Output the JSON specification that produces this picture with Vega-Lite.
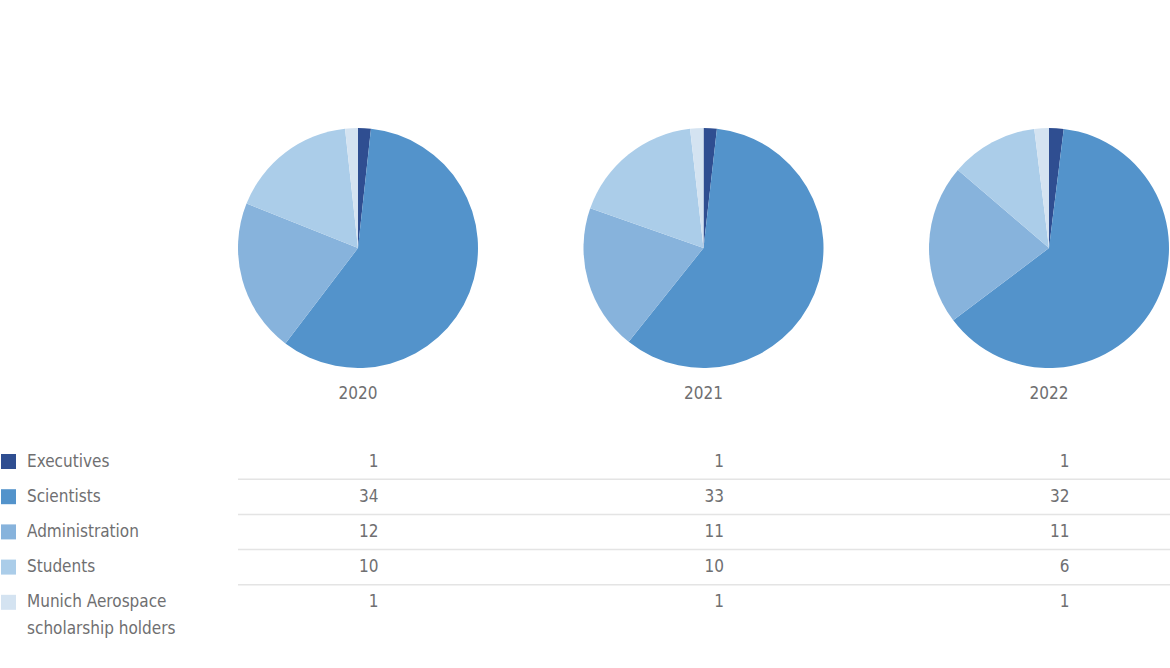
{
  "$schema": "https://vega.github.io/schema/vega-lite/v6.json",
  "padding": {"top": 128, "left": 0, "right": 0, "bottom": 0},
  "background": "white",
  "config": {
    "view": {"stroke": null},
    "font": "Liberation Sans Narrow, DejaVu Sans Condensed, Roboto, sans-serif",
    "style": {"guide-label": {"lineHeight": 27}}
  },
  "datasets": {
    "staff": [
      {"year": "2020", "category": "Executives", "k": 1, "value": 1},
      {"year": "2020", "category": "Scientists", "k": 2, "value": 34},
      {"year": "2020", "category": "Administration", "k": 3, "value": 12},
      {"year": "2020", "category": "Students", "k": 4, "value": 10},
      {"year": "2020", "category": "Munich Aerospace scholarship holders", "k": 5, "value": 1},
      {"year": "2021", "category": "Executives", "k": 1, "value": 1},
      {"year": "2021", "category": "Scientists", "k": 2, "value": 33},
      {"year": "2021", "category": "Administration", "k": 3, "value": 11},
      {"year": "2021", "category": "Students", "k": 4, "value": 10},
      {"year": "2021", "category": "Munich Aerospace scholarship holders", "k": 5, "value": 1},
      {"year": "2022", "category": "Executives", "k": 1, "value": 1},
      {"year": "2022", "category": "Scientists", "k": 2, "value": 32},
      {"year": "2022", "category": "Administration", "k": 3, "value": 11},
      {"year": "2022", "category": "Students", "k": 4, "value": 6},
      {"year": "2022", "category": "Munich Aerospace scholarship holders", "k": 5, "value": 1}
    ]
  },
  "vconcat": [
    {
      "data": {"name": "staff"},
      "facet": {
        "column": {
          "field": "year",
          "type": "nominal",
          "title": null,
          "header": {
            "labelOrient": "bottom",
            "labelFontSize": 17,
            "labelColor": "#6f6f71",
            "labelPadding": 18
          }
        }
      },
      "spacing": {"column": 105.5},
      "spec": {
        "width": 240,
        "height": 240,
        "mark": {"type": "arc", "outerRadius": 120},
        "encoding": {
          "theta": {"field": "value", "type": "quantitative", "stack": true},
          "order": {"field": "k", "type": "quantitative", "sort": "ascending"},
          "color": {
            "field": "category",
            "type": "nominal",
            "scale": {
              "domain": ["Executives", "Scientists", "Administration", "Students", "Munich Aerospace scholarship holders"],
              "range": ["#2f4e91", "#5393cb", "#87b3dc", "#abcde9", "#d4e3f1"]
            },
            "legend": {
              "title": null,
              "orient": "none",
              "legendX": -238,
              "legendY": 325,
              "symbolType": "square",
              "symbolSize": 225,
              "symbolStrokeWidth": 0,
              "labelFontSize": 17,
              "labelColor": "#6f6f71",
              "labelOffset": 10,
              "rowPadding": 17.2,
              "padding": 0,
              "labelLimit": 300,
              "labelExpr": "datum.label == 'Munich Aerospace scholarship holders' ? ['Munich Aerospace', 'scholarship holders'] : datum.label"
            }
          }
        }
      }
    },
    {
      "data": {"name": "staff"},
      "width": 932,
      "height": 176,
      "encoding": {
        "y": {
          "field": "category",
          "type": "nominal",
          "sort": ["Executives", "Scientists", "Administration", "Students", "Munich Aerospace scholarship holders"],
          "scale": {"paddingInner": 0, "paddingOuter": 0},
          "axis": null
        }
      },
      "layer": [
        {
          "transform": [
            {"filter": "datum.year == '2020' && datum.k < 5"}
          ],
          "mark": {"type": "rule", "color": "#e4e4e4", "strokeWidth": 1.5},
          "encoding": {
            "y": {
              "field": "category",
              "type": "nominal",
              "bandPosition": 1,
              "sort": ["Executives", "Scientists", "Administration", "Students", "Munich Aerospace scholarship holders"]
            }
          }
        },
        {
          "mark": {"type": "text", "align": "right", "dx": 20, "fontSize": 17, "color": "#6f6f71"},
          "encoding": {
            "x": {
              "field": "year",
              "type": "ordinal",
              "scale": {"type": "point", "padding": 0.349},
              "axis": null
            },
            "text": {"field": "value", "type": "quantitative"}
          }
        }
      ]
    }
  ],
  "spacing": 42
}
